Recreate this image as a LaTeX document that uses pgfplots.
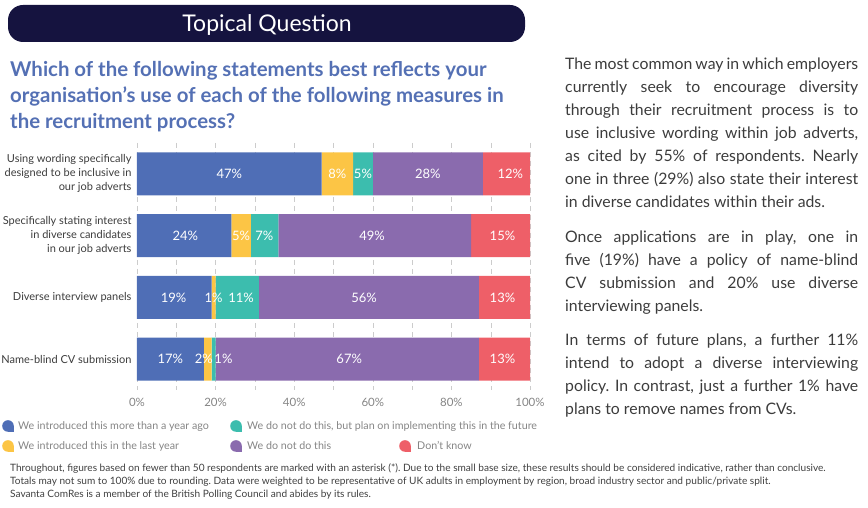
\documentclass[border=0pt]{standalone}
\usepackage{fontspec}
\setmainfont{Lato}
\usepackage{pgfplots}
\pgfplotsset{compat=1.18}
\definecolor{cBlue}{HTML}{4F6EB6}
\definecolor{cYellow}{HTML}{FCC545}
\definecolor{cTeal}{HTML}{3CBDAE}
\definecolor{cPurple}{HTML}{8A6BAE}
\definecolor{cRed}{HTML}{EE5F68}
\definecolor{cNavy}{HTML}{15133F}
\definecolor{cQ}{HTML}{5470B4}
\definecolor{cTxt}{HTML}{3C3C3C}
\definecolor{cLeg}{HTML}{858585}
\definecolor{cFoot}{HTML}{404040}
\frenchspacing
\newcommand{\fs}[2]{\fontsize{#1}{#2}\selectfont}
\newcommand{\jl}[1]{\hbox to 293pt{\spaceskip=0.28em plus 1em minus 0.25em\relax\xspaceskip=\spaceskip #1}}
\begin{document}
\begin{tikzpicture}
\path[use as bounding box] (0,0) rectangle (868pt,508pt);
\begin{axis}[
  at={(137pt,118pt)}, anchor=south west,
  scale only axis, width=393pt, height=247pt,
  xbar stacked, bar width=43pt,
  xmin=0, xmax=100, ymin=-0.5, ymax=3.5, y dir=reverse,
  ytick={0,1,2,3},
  yticklabels={{Using wording specifically\\designed to be inclusive in\\our job adverts},
               {Specifically stating interest\\in diverse candidates\\in our job adverts},
               {Diverse interview panels},
               {Name-blind CV submission}},
  yticklabel style={align=right, font=\fs{11}{14}, text=cTxt, xshift=-2pt},
  xtick={0,20,40,60,80,100},
  xticklabels={0\%,20\%,40\%,60\%,80\%,100\%},
  minor xtick={10,30,50,70,90},
  xticklabel style={font=\fs{11.5}{14}, text=cLeg, yshift=-5pt},
  axis line style={draw=none},
  tick style={draw=none},
  major tick length=0pt, minor tick length=0pt,
  xmajorgrids, xminorgrids,
  major grid style={black!20, dash pattern=on 5pt off 4pt},
  minor grid style={black!20, dash pattern=on 5pt off 4pt},
]
\addplot[fill=cBlue, draw=none] coordinates {(47,0) (24,1) (19,2) (17,3)};
\addplot[fill=cYellow, draw=none] coordinates {(8,0) (5,1) (1,2) (2,3)};
\addplot[fill=cTeal, draw=none] coordinates {(5,0) (7,1) (11,2) (1,3)};
\addplot[fill=cPurple, draw=none] coordinates {(28,0) (49,1) (56,2) (67,3)};
\addplot[fill=cRed, draw=none] coordinates {(12,0) (15,1) (13,2) (13,3)};
\end{axis}
\begin{axis}[
  at={(137pt,118pt)}, anchor=south west,
  scale only axis, width=393pt, height=247pt,
  xmin=0, xmax=100, ymin=-0.5, ymax=3.5, y dir=reverse,
  hide axis, clip=false,
]
\addplot[draw=none, mark=none, nodes near coords, point meta=explicit symbolic,
  every node near coord/.style={anchor=center, text=white, font=\fs{13}{15}, inner sep=0pt}]
  coordinates {
  (23.5,0) [47\%] (51,0) [8\%] (57.5,0) [5\%] (74,0) [28\%] (95,0) [12\%]
  (12.3,1) [24\%] (26.5,1) [5\%] (32.4,1) [7\%] (59.8,1) [49\%] (93,1) [15\%]
  (9.3,2) [19\%] (19.5,2) [1\%] (26.5,2) [11\%] (57.8,2) [56\%] (93,2) [13\%]
  (8.5,3) [17\%] (17,3) [2\%] (22,3) [1\%] (54,3) [67\%] (93,3) [13\%]
  };
\end{axis}
\begin{scope}[x=1pt, y=-1pt, yshift=508pt]
  \fill[cNavy, rounded corners=15pt] (8,5) rectangle (525,42);
  \node[white, font=\fs{23}{26}] at (267,25) {Topical Question};
  \begin{scope}[every node/.style={anchor=base west, inner sep=0, text=cQ, font=\fs{20.4}{24}\bfseries}]
  \node at (10,77) {Which of the following statements best reflects your};
  \node at (10,103) {organisation’s use of each of the following measures in};
  \node at (10,129) {the recruitment process?};
  \end{scope}
  % legend
  \foreach \c/\x/\y in {cBlue/8/426, cYellow/8/446, cTeal/236/426, cPurple/236/446, cRed/405/446} {
    \fill[\c] (\x,\y) circle (5.8);
    \fill[\c] (\x,\y) rectangle (\x+5.8,\y+5.8);
  }
  \begin{scope}[every node/.style={anchor=base west, inner sep=0, text=cLeg, font=\fs{10.7}{12}}]
  \node at (18,430) {We introduced this more than a year ago};
  \node at (18,450) {We introduced this in the last year};
  \node at (247,430) {We do not do this, but plan on implementing this in the future};
  \node at (247,450) {We do not do this};
  \node at (417,450) {Don't know};
  \end{scope}
  \begin{scope}[every node/.style={anchor=base west, inner sep=0, text=cFoot, font=\fs{10.1}{12}}]
  \node at (10,472) {Throughout, figures based on fewer than 50 respondents are marked with an asterisk (*). Due to the small base size, these results should be considered indicative, rather than conclusive.};
  \node at (10,485) {Totals may not sum to 100\% due to rounding. Data were weighted to be representative of UK adults in employment by region, broad industry sector and public/private split.};
  \node at (10,498) {Savanta ComRes is a member of the British Polling Council and abides by its rules.};
  \end{scope}
  \begin{scope}[every node/.style={anchor=base west, inner sep=0, text=cTxt, font=\fs{15.8}{18}}]
  \node at (565,70) {\jl{The most common way in which employers}};
  \node at (565,93) {\jl{currently seek to encourage diversity}};
  \node at (565,116) {\jl{through their recruitment process is to}};
  \node at (565,139) {\jl{use inclusive wording within job adverts,}};
  \node at (565,162) {\jl{as cited by 55\% of respondents. Nearly}};
  \node at (565,185) {\jl{one in three (29\%) also state their interest}};
  \node at (565,208) {in diverse candidates within their ads.};
  \node at (565,243) {\jl{Once applications are in play, one in}};
  \node at (565,266) {\jl{five (19\%) have a policy of name-blind}};
  \node at (565,289) {\jl{CV submission and 20\% use diverse}};
  \node at (565,312) {interviewing panels.};
  \node at (565,346) {\jl{In terms of future plans, a further 11\%}};
  \node at (565,369) {\jl{intend to adopt a diverse interviewing}};
  \node at (565,392) {\jl{policy. In contrast, just a further 1\% have}};
  \node at (565,415) {plans to remove names from CVs.};
  \end{scope}
\end{scope}
\end{tikzpicture}
\end{document}
